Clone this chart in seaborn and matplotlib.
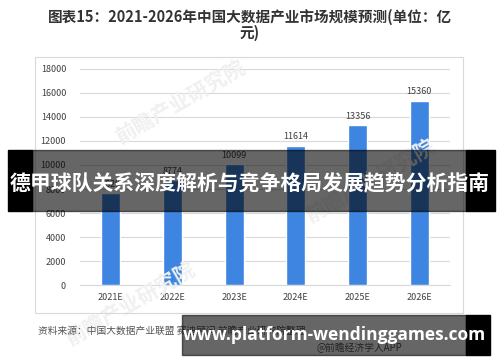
import matplotlib
matplotlib.use("Agg")
import matplotlib.pyplot as plt
from matplotlib.patches import Rectangle
import seaborn as sns
import pandas as pd

## Data
years = ["2021E", "2022E", "2023E", "2024E", "2025E", "2026E"]
market_size = [7629, 8774, 10099, 11614, 13356, 15360]
y_ticks = [0, 2000, 4000, 6000, 8000, 10000, 12000, 14000, 16000, 18000]

title_text = "图表15：2021-2026年中国大数据产业市场规模预测(单位：亿\n元)"
source_text = "资料来源：中国大数据产业联盟 赛迪顾问 前瞻产业研究院整理"
app_text = "@前瞻经济学人APP"
banner_text = "德甲球队关系深度解析与竞争格局发展趋势分析指南"
site_text = "www.platform-wendinggames.com"
watermark = "前瞻产业研究院"

df = pd.DataFrame({"year": years, "value": market_size})

sns.set_theme(style="white")
plt.rcParams['font.family'] = ['Noto Sans CJK SC', 'DejaVu Sans']

fig = plt.figure(figsize=(5, 3.62), dpi=100)
fig.patch.set_facecolor("white")

# outer frame of the chart picture
fig.add_artist(Rectangle((35 / 500, 1 - 313 / 362), 428 / 500, 256 / 362,
                         transform=fig.transFigure, fill=False,
                         edgecolor="#d9d9d9", linewidth=0.8))

ax = fig.add_axes([0.16, 0.2127, 0.74, 0.5967])
ax.patch.set_alpha(0)
sns.barplot(data=df, x="year", y="value", color="#3d85e0", width=0.31,
            saturation=1, ax=ax, zorder=3)

ax.set_xlim(-0.5, 5.5)
ax.set_ylim(0, 18000)
ax.set_yticks(y_ticks)
ax.set_yticklabels([str(t) for t in y_ticks], fontsize=6.5, color="#404040")
ax.tick_params(axis="x", labelsize=6.5, colors="#404040", length=0, pad=6)
ax.tick_params(axis="y", length=0, pad=10)
ax.set_xlabel("")
ax.set_ylabel("")
ax.grid(axis="y", color="#d9d9d9", linewidth=0.8, zorder=0)
for s in ["top", "right", "left"]:
    ax.spines[s].set_visible(False)
ax.spines["bottom"].set_color("#d9d9d9")
ax.spines["bottom"].set_linewidth(0.8)

for i, v in enumerate(market_size):
    ax.text(i, v + 350, str(v), ha="center", va="bottom",
            fontsize=6.5, color="#404040")

# faint watermarks
for (wx, wy) in [(0.36, 0.72), (0.74, 0.50), (0.26, 0.16)]:
    fig.text(wx, wy, watermark, fontsize=15, color="#f0f0f0", rotation=30,
             ha="center", va="center", fontweight="bold", zorder=0)

fig.text(0.5, 1 - 25 / 362, title_text, ha="center", va="center",
         fontsize=10.5, fontweight="bold", color="#333333", linespacing=1.0)

fig.text(38 / 500, 1 - 331 / 362, source_text, ha="left", va="center",
         fontsize=7, color="#555555")
fig.text(402 / 500, 1 - 348 / 362, app_text, ha="right", va="center",
         fontsize=7, color="#555555")

# top banner overlay
fig.add_artist(Rectangle((8 / 500, 1 - 211 / 362), 24 / 500, 61 / 362,
                         transform=fig.transFigure, color="black", zorder=10))
fig.add_artist(Rectangle((466 / 500, 1 - 211 / 362), 29 / 500, 61 / 362,
                         transform=fig.transFigure, color="black", zorder=10))
fig.add_artist(Rectangle((32 / 500, 1 - 211 / 362), 434 / 500, 61 / 362,
                         transform=fig.transFigure, color="black", alpha=0.6,
                         zorder=10))
fig.text(250 / 500, 1 - 184 / 362, banner_text, ha="center", va="center",
         fontsize=15, fontweight="bold", color="white", zorder=11)

# bottom banner overlay
fig.add_artist(Rectangle((182 / 500, 1 - 355 / 362), 284 / 500, 40 / 362,
                         transform=fig.transFigure, color="black", alpha=0.6,
                         zorder=10))
fig.add_artist(Rectangle((466 / 500, 1 - 355 / 362), 24 / 500, 40 / 362,
                         transform=fig.transFigure, color="black", zorder=10))
fig.text(334 / 500, 1 - 335 / 362, site_text, ha="center", va="center",
         fontsize=12.5, fontweight="bold", color="white", zorder=11,
         family=["Open Sans", "DejaVu Sans"])

fig.savefig("out.png", dpi=100)
